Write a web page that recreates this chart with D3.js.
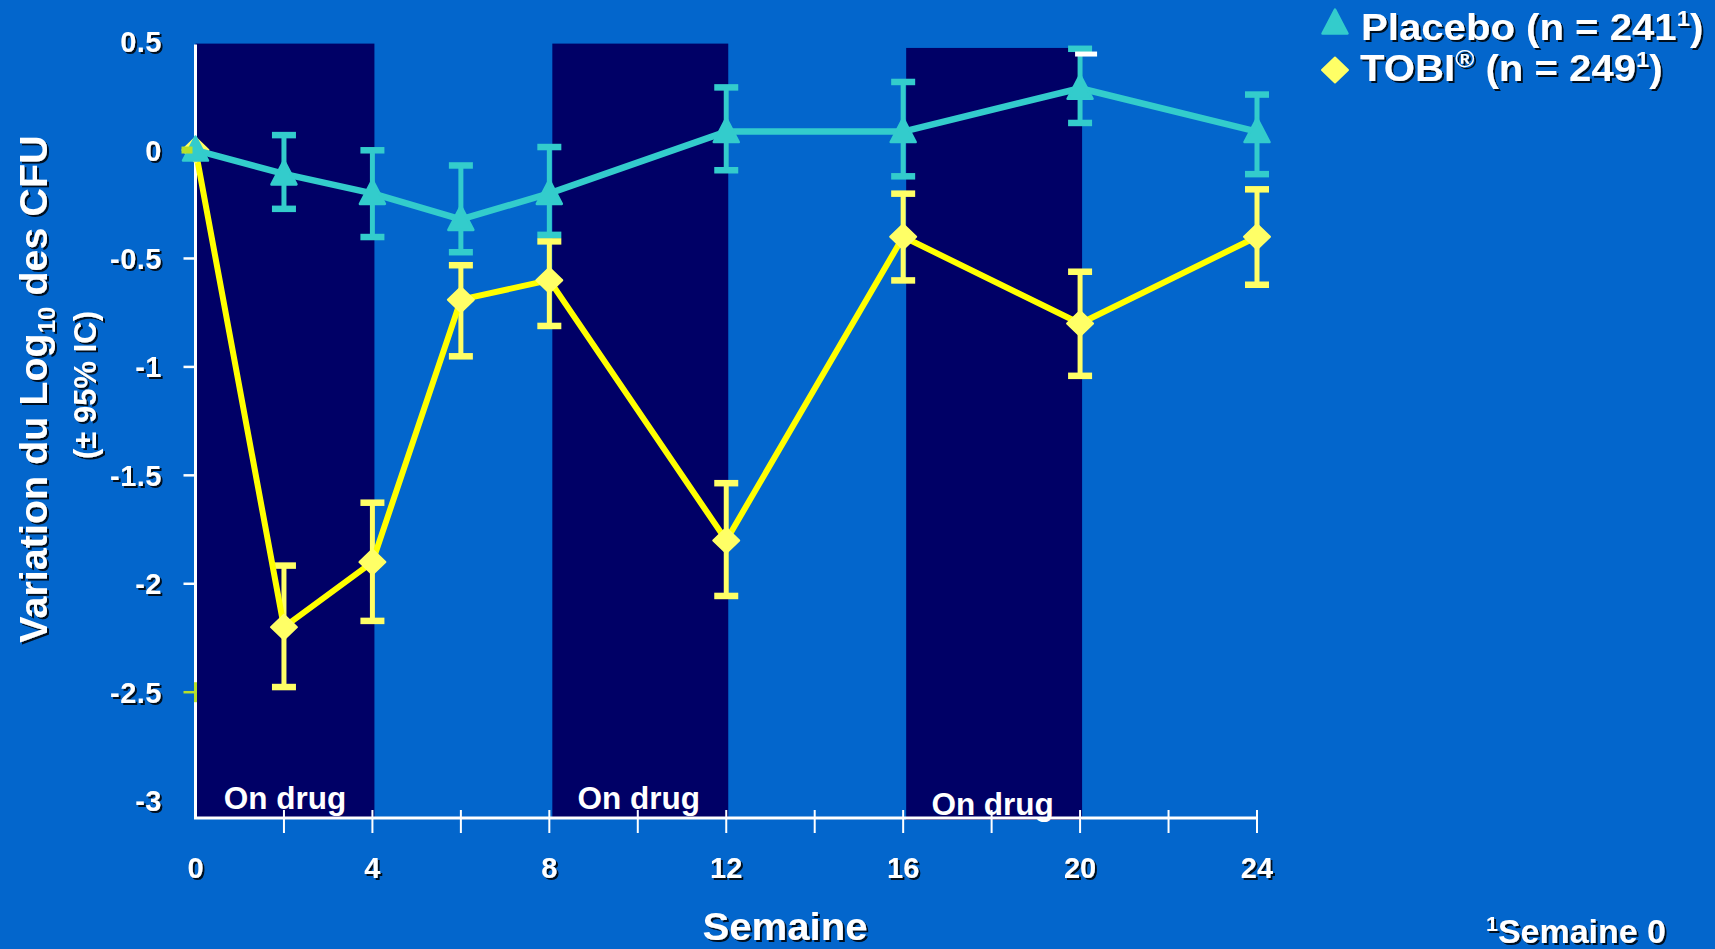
<!DOCTYPE html>
<html><head><meta charset="utf-8">
<script src="https://cdn.jsdelivr.net/npm/d3@7"></script>
<style>html,body{margin:0;padding:0;background:#0366cc;overflow:hidden} svg{display:block;}</style>
</head><body>
<svg id="c" width="1715" height="949"></svg>
<script>
// ---- data ----
const weeks = [0, 2, 4, 6, 8, 12, 16, 20, 24];
const placeboMean  = [0, -0.11, -0.20, -0.32, -0.20, 0.085, 0.085, 0.285, 0.085];
const placeboUpper = [0,  0.07,  0.00, -0.07,  0.015, 0.29, 0.315, 0.468, 0.257];
const placeboLower = [0, -0.27, -0.40, -0.47, -0.39, -0.092, -0.12, 0.126, -0.11];
const tobiMean  = [0, -2.20, -1.90, -0.69, -0.60, -1.80, -0.40, -0.80, -0.40];
const tobiUpper = [0, -1.915, -1.625, -0.53, -0.42, -1.535, -0.20, -0.56, -0.18];
const tobiLower = [0, -2.475, -2.17, -0.95, -0.81, -2.055, -0.60, -1.04, -0.62];
const xTickLabels = ["0", "4", "8", "12", "16", "20", "24"];
const xTickMarks = [2, 4, 6, 8, 10, 12, 14, 16, 18, 20, 22, 24];
const yTickLabels = ["0.5", "0", "-0.5", "-1", "-1.5", "-2", "-2.5", "-3"];
const yTickMarks = [-0.5, -1, -1.5, -2, -2.5];
const drugStart = [0, 8, 16];
const drugEnd = [4, 12, 20];
const drugTop = [0.5, 0.5, 0.48];
const drugLabels = ["On drug", "On drug", "On drug"];

// ---- styles ----
const C = {
  bg: "#0366cc", band: "#000066", teal: "#33cccc", yellowLine: "#ffff00",
  yellowMark: "#ffff66", white: "#ffffff", green: "#b8e02a"
};
const FONT = "'Liberation Sans', Arial, Helvetica, sans-serif";

const svg = d3.select("#c");
svg.append("rect").attr("width", 1715).attr("height", 949).attr("fill", C.bg);

const defs = svg.append("defs");
const f = defs.append("filter").attr("id", "sh").attr("x", "-10%").attr("y", "-20%").attr("width", "130%").attr("height", "150%");
f.append("feDropShadow").attr("dx", 2).attr("dy", 2).attr("stdDeviation", 0.4)
  .attr("flood-color", "#000").attr("flood-opacity", 0.85);

const x = d3.scaleLinear().domain([0, 24]).range([195.5, 1257]);
const y = d3.scaleLinear().domain([0.5, -3.08]).range([41.6, 818]);

// drug bands
const bands = svg.append("g");
drugStart.forEach((s, i) => {
  bands.append("rect")
    .attr("x", x(s) + (i ? 3 : 0)).attr("y", y(drugTop[i]) + 2)
    .attr("width", x(drugEnd[i]) - x(s) - (i ? 1 : -2))
    .attr("height", y(-3.08) - y(drugTop[i]) - 2 + (i === 2 ? 2 : 0))
    .attr("fill", C.band);
  bands.append("text")
    .attr("x", (x(s) + x(drugEnd[i])) / 2 + 1)
    .attr("y", y(-3) + 8 + (i === 2 ? 6 : 0))
    .attr("text-anchor", "middle")
    .attr("font-family", FONT).attr("font-weight", "bold").attr("font-size", 31.5)
    .attr("fill", C.white)
    .text(drugLabels[i]);
});

// axes
const ax = svg.append("g");
ax.append("line").attr("x1", x(0)).attr("x2", x(0)).attr("y1", y(0.5) + 3).attr("y2", y(-3.08))
  .attr("stroke", C.white).attr("stroke-width", 3);
ax.append("line").attr("x1", x(0) - 1.5).attr("x2", x(24)).attr("y1", y(-3.08)).attr("y2", y(-3.08))
  .attr("stroke", C.white).attr("stroke-width", 3);
ax.selectAll(".yt").data(yTickMarks).enter().append("line")
  .attr("x1", x(0) - 12).attr("x2", x(0)).attr("y1", d => y(d)).attr("y2", d => y(d))
  .attr("stroke", d => d === -2.5 ? C.green : C.white).attr("stroke-width", 2.5);
ax.append("line").attr("x1", x(0)).attr("x2", x(0)).attr("y1", y(-2.5) - 10).attr("y2", y(-2.5) + 10)
  .attr("stroke", C.green).attr("stroke-width", 3);
ax.selectAll(".xt").data(xTickMarks).enter().append("line")
  .attr("x1", d => x(d)).attr("x2", d => x(d))
  .attr("y1", y(-3.08) - 8).attr("y2", y(-3.08) + 15)
  .attr("stroke", C.white).attr("stroke-width", 2);

// tick labels
const tl = svg.append("g").attr("filter", "url(#sh)")
  .attr("font-family", FONT).attr("font-weight", "bold").attr("font-size", 29).attr("fill", C.white);
const yVals = [0.5, 0, -0.5, -1, -1.5, -2, -2.5, -3];
tl.selectAll(".yl").data(yTickLabels).enter().append("text")
  .attr("x", 162).attr("y", (d, i) => y(yVals[i]) + 10.5).attr("text-anchor", "end")
  .attr("letter-spacing", 0.5)
  .text(d => d);
const xVals = [0, 4, 8, 12, 16, 20, 24];
tl.selectAll(".xl").data(xTickLabels).enter().append("text")
  .attr("x", (d, i) => x(xVals[i])).attr("y", 878).attr("text-anchor", "middle")
  .text(d => d);

// ---- series ----
function errorBars(g, lo, hi, color) {
  weeks.forEach((w, i) => {
    if (i === 0) return;
    g.append("line").attr("x1", x(w)).attr("x2", x(w)).attr("y1", y(hi[i])).attr("y2", y(lo[i]))
      .attr("stroke", color).attr("stroke-width", 5);
    [hi[i], lo[i]].forEach(v => {
      g.append("rect").attr("x", x(w) - 12).attr("y", y(v) - 3).attr("width", 24).attr("height", 6.5)
        .attr("fill", color);
    });
  });
}
const tri = "M0,-13.5 L12.5,10.5 L-12.5,10.5 Z";
const dia = "M0,-12.5 L13,0 L0,12.5 L-13,0 Z";
const line = d3.line().x((d, i) => x(weeks[i])).y(d => y(d));

// TOBI
const gT = svg.append("g");
errorBars(gT, tobiLower, tobiUpper, C.yellowMark);
gT.append("path").attr("d", line(tobiMean)).attr("fill", "none")
  .attr("stroke", C.yellowLine).attr("stroke-width", 6).attr("stroke-linejoin", "round");
gT.selectAll(".m").data(tobiMean).enter().append("path")
  .attr("d", dia).attr("transform", (d, i) => `translate(${x(weeks[i])},${y(d)})`)
  .attr("fill", C.yellowMark).attr("stroke", C.yellowMark).attr("stroke-width", 2).attr("stroke-linejoin", "round");

// Placebo
const gP = svg.append("g");
errorBars(gP, placeboLower, placeboUpper, C.teal);
gP.append("path").attr("d", line(placeboMean)).attr("fill", "none")
  .attr("stroke", C.teal).attr("stroke-width", 6.5).attr("stroke-linejoin", "round");
gP.selectAll(".m").data(placeboMean).enter().append("path")
  .attr("d", tri).attr("transform", (d, i) => `translate(${x(weeks[i])},${y(d)})`)
  .attr("fill", C.teal).attr("stroke", C.teal).attr("stroke-width", 2.5).attr("stroke-linejoin", "round");

// small artefact marks from the original slide
svg.append("rect").attr("x", x(0) - 14).attr("y", y(0) - 3.5).attr("width", 11).attr("height", 7).attr("fill", C.green);
svg.append("rect").attr("x", x(20) - 5).attr("y", y(placeboUpper[7]) + 3).attr("width", 22).attr("height", 5).attr("fill", C.white);

// ---- titles ----
const tt = svg.append("g").attr("filter", "url(#sh)").attr("font-family", FONT).attr("font-weight", "bold").attr("fill", C.white);
const yt = tt.append("text").attr("transform", "translate(47,389) rotate(-90)")
  .attr("text-anchor", "middle").attr("font-size", 39.5);
yt.append("tspan").text("Variation du Log");
yt.append("tspan").attr("font-size", 24).attr("dy", 8).text("10");
yt.append("tspan").attr("dy", -8).text(" des CFU");
tt.append("text").attr("transform", "translate(96,385) rotate(-90)")
  .attr("text-anchor", "middle").attr("font-size", 31).text("(± 95% IC)");
tt.append("text").attr("transform", "translate(785,940) scale(1.03,1)").attr("text-anchor", "middle")
  .attr("font-size", 39).text("Semaine");
const fn = tt.append("text").attr("transform", "translate(1666,943) scale(1.03,1)").attr("text-anchor", "end").attr("font-size", 33);
fn.append("tspan").attr("font-size", 21).attr("dy", -12).text("1");
fn.append("tspan").attr("dy", 12).text("Semaine 0");

// ---- legend ----
const lg = svg.append("g");
lg.append("path").attr("d", tri).attr("transform", "translate(1335,23)")
  .attr("fill", C.teal).attr("stroke", C.teal).attr("stroke-width", 2.5).attr("stroke-linejoin", "round");
lg.append("path").attr("d", dia).attr("transform", "translate(1335,70)")
  .attr("fill", C.yellowMark).attr("stroke", C.yellowMark).attr("stroke-width", 2).attr("stroke-linejoin", "round");
const lt = lg.append("g").attr("filter", "url(#sh)").attr("font-family", FONT).attr("font-weight", "bold")
  .attr("font-size", 37).attr("fill", C.white);
const l1 = lt.append("text").attr("transform", "translate(1361,40) scale(1.085,1)");
l1.append("tspan").text("Placebo (n = 241");
l1.append("tspan").attr("font-size", 22).attr("dy", -14).text("1");
l1.append("tspan").attr("dy", 14).text(")");
const l2 = lt.append("text").attr("transform", "translate(1360,81) scale(1.085,1)");
l2.append("tspan").text("TOBI");
l2.append("tspan").attr("font-size", 24).attr("dy", -14).text("®");
l2.append("tspan").attr("dy", 14).text(" (n = 249");
l2.append("tspan").attr("font-size", 22).attr("dy", -14).text("1");
l2.append("tspan").attr("dy", 14).text(")");
</script>
</body></html>
